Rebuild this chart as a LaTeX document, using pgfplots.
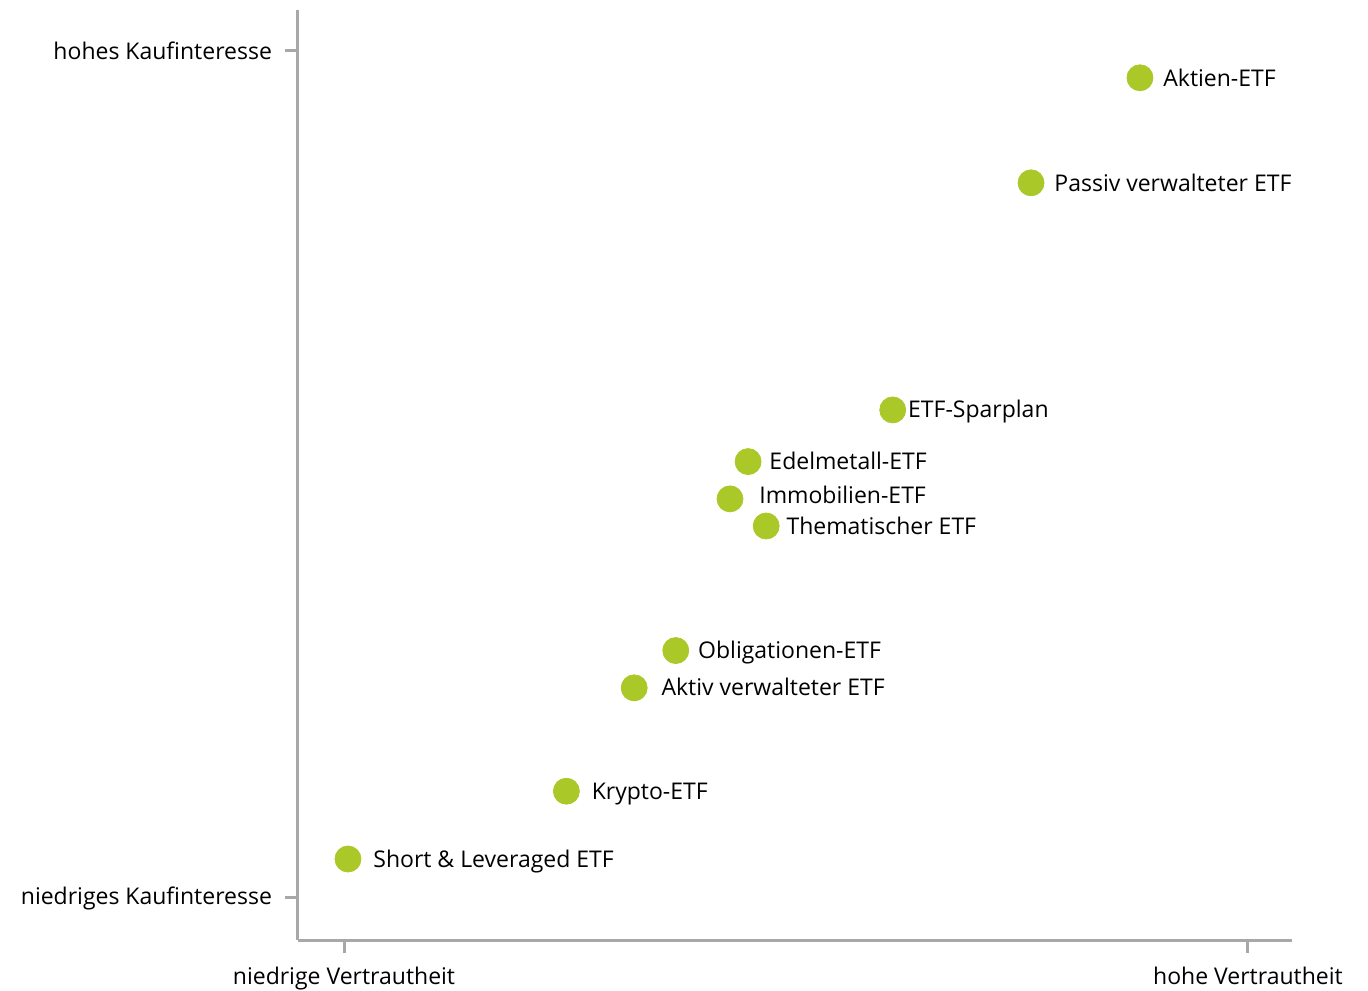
\documentclass[border=0pt]{standalone}
\usepackage{pgfplots}
\pgfplotsset{compat=1.18}
\usepackage{fontspec}
\setmainfont{Open Sans}
\definecolor{dotgreen}{RGB}{170,200,40}
\definecolor{axisgray}{RGB}{168,168,168}
\begin{document}
\begin{tikzpicture}
\path[use as bounding box] (-149pt,-25pt) rectangle (535pt,470pt);
\begin{axis}[
  at={(0,0)}, anchor=south west,
  scale only axis, width=497pt, height=465pt,
  xmin=-0.0509, xmax=1.0487,
  ymin=-0.0496, ymax=1.048,
  axis lines*=left,
  axis line style={axisgray, line width=1.5pt},
  tick style={axisgray, line width=1.5pt},
  tick align=outside, major tick length=6.5pt,
  xtick={0,1}, xticklabels={niedrige Vertrautheit, hohe Vertrautheit},
  ytick={0,1}, yticklabels={niedriges Kaufinteresse, hohes Kaufinteresse},
  tick label style={font=\fontsize{11.5}{13}\selectfont, black},
  xticklabel style={yshift=-3.5pt},
  yticklabel style={xshift=-3pt},
  font=\fontsize{11.5}{13}\selectfont,
  clip=false,
]
\addplot[only marks, mark=*, mark size=6.5pt, color=dotgreen,
  point meta=explicit symbolic,
  visualization depends on={value \thisrow{dx} \as \dx},
  visualization depends on={value \thisrow{dy} \as \dy},
  nodes near coords,
  every node near coord/.append style={anchor=west, inner sep=0pt,
    text=black, xshift=\dx pt, yshift=\dy pt,
    text height=1.45ex, text depth=0.4ex},
] table[x=x, y=y, meta=label, col sep=comma, row sep=\\] {
x,y,dx,dy,label\\
0.8805,0.968,11.5,-1.5,Aktien-ETF\\
0.760,0.844,11.5,-1.5,Passiv verwalteter ETF\\
0.607,0.576,7.5,-1.2,ETF-Sparplan\\
0.447,0.515,10.5,-1.2,Edelmetall-ETF\\
0.427,0.471,14.5,0.3,Immobilien-ETF\\
0.467,0.439,10,-1.2,Thematischer ETF\\
0.367,0.292,11,-1.2,Obligationen-ETF\\
0.321,0.248,13.5,-1.2,Aktiv verwalteter ETF\\
0.246,0.126,12.5,-1.2,Krypto-ETF\\
0.0044,0.046,12.5,-1.2,Short \& Leveraged ETF\\
};
\end{axis}
\end{tikzpicture}
\end{document}
